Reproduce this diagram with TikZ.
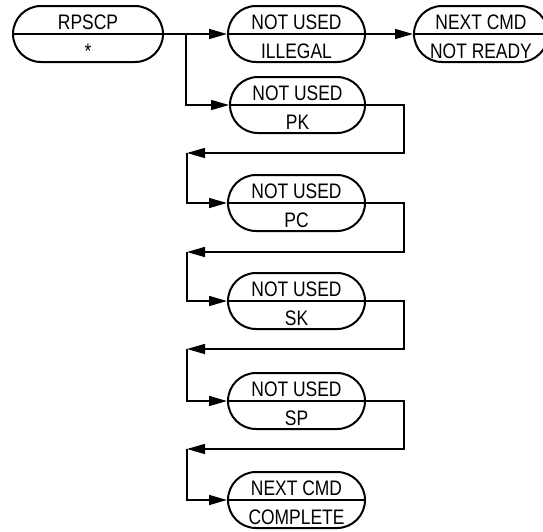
\documentclass[tikz,border=0pt]{standalone}
\usepackage{fontspec}
\setmainfont{Liberation Sans}[FakeStretch=0.83]
\usetikzlibrary{arrows.meta}

\begin{document}
\begin{tikzpicture}[x=1pt,y=-1pt,
	statebox/.style={draw,line width=2pt,rounded corners=28pt,minimum height=56pt,inner sep=0pt},
	boxtext/.style={anchor=base,inner sep=0pt,font=\fontsize{21}{22}\selectfont},
	flow/.style={line width=1.5pt,-{Triangle[length=18pt,width=10pt]}}]
	\useasboundingbox (0,0) rectangle (543,531);
	% the boxes, each split in two
	\foreach \n/\x/\y/\w/\a/\b in {rpscp/88/34/150/RPSCP/*,illegal/296.5/34/137/NOT USED/ILLEGAL,notready/481/34/134/NEXT CMD/NOT READY,pk/297.5/105/135/NOT USED/PK,pc/296.5/203/137/NOT USED/PC,sk/296.5/301/137/NOT USED/SK,sp/296.5/401/137/NOT USED/SP,complete/296.5/500/137/NEXT CMD/COMPLETE} {
		\node[statebox,minimum width=\w pt] (\n) at (\x,\y) {};
		\draw[line width=1.5pt] (\n.west) -- (\n.east);
		\node[boxtext] (\n-up) at ([yshift=5pt]\n.center) {\a};
		\node[boxtext] (\n-low) at ([yshift=-24pt]\n.center) {\b};
	}
	\coordinate (branch) at (186,34);
	\draw[flow] (rpscp.east) -- (illegal.west);
	\draw[flow] (illegal.east) -- (notready.west);
	\draw[flow] (branch) |- (pk.west);
	% loop back from each box to the next one
	\foreach \a/\b/\r/\y in {pk/pc/1/153,pc/sk/2/252,sk/sp/3/349,sp/complete/4/449} {
		\coordinate (ret\r) at (187,\y);
		\draw[flow] (\a.east) -- ++(38,0) |- (ret\r);
		\draw[flow] (ret\r) |- (\b.west);
	}
\end{tikzpicture}
\end{document}
